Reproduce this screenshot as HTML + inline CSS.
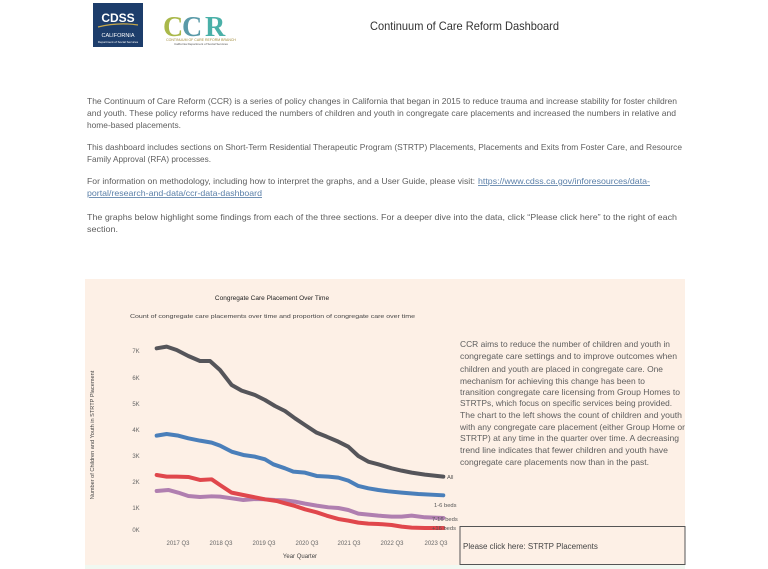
<!DOCTYPE html>
<html><head><meta charset="utf-8"><style>
html,body{margin:0;padding:0;background:#fff;}
svg{display:block;font-family:"Liberation Sans",sans-serif;}
</style></head><body>
<svg width="768" height="569" viewBox="0 0 768 569" xmlns="http://www.w3.org/2000/svg">
<rect width="768" height="569" fill="#fff"/>
<rect x="93" y="3" width="50" height="44" fill="#1d3d6b"/>
<text x="118" y="22" font-size="12" fill="#fff" text-anchor="middle" font-weight="bold">CDSS</text>
<path d="M98 27 Q118 22 138 25" stroke="#c9a94a" stroke-width="1.2" fill="none"/>
<text x="118" y="37" font-size="5.5" fill="#fff" text-anchor="middle">CALIFORNIA</text>
<text x="118" y="43" font-size="3" fill="#fff" text-anchor="middle">Department of Social Services</text>
<text x="163" y="36" font-size="28" fill="#a9b84a" font-weight="bold" font-family="Liberation Serif,serif">C</text>
<text x="182" y="36" font-size="28" fill="#5a9aa8" font-weight="bold" font-family="Liberation Serif,serif">C</text>
<text x="205" y="36" font-size="28" fill="#4ab0a8" font-weight="bold" font-family="Liberation Serif,serif">R</text>
<text x="201" y="41" font-size="3.5" fill="#a08a3a" text-anchor="middle">CONTINUUM OF CARE REFORM BRANCH</text>
<text x="201" y="45" font-size="3" fill="#555" text-anchor="middle">California Department of Social Services</text>
<text x="370" y="30" font-size="12" fill="#333" textLength="189" lengthAdjust="spacingAndGlyphs">Continuum of Care Reform Dashboard</text>
<g font-size="8.5" fill="#5e5e5e">
<text x="87" y="104" textLength="590" lengthAdjust="spacingAndGlyphs">The Continuum of Care Reform (CCR) is a series of policy changes in California that began in 2015 to reduce trauma and increase stability for foster children</text>
<text x="87" y="116" textLength="589" lengthAdjust="spacingAndGlyphs">and youth.  These policy reforms have reduced the numbers of children and youth in congregate care placements and increased the numbers in relative and</text>
<text x="87" y="128" textLength="94" lengthAdjust="spacingAndGlyphs">home-based placements.</text>
<text x="87" y="150" textLength="595" lengthAdjust="spacingAndGlyphs">This dashboard includes sections on Short-Term Residential Therapeutic Program (STRTP) Placements, Placements and Exits from Foster Care, and Resource</text>
<text x="87" y="162" textLength="124" lengthAdjust="spacingAndGlyphs">Family Approval (RFA) processes.</text>
<text x="87" y="184" textLength="388" lengthAdjust="spacingAndGlyphs">For information on methodology, including how to interpret the graphs, and a User Guide, please visit:</text>
<text x="478" y="184" textLength="172" lengthAdjust="spacingAndGlyphs" fill="#5a7fa8" text-decoration="underline">https://www.cdss.ca.gov/inforesources/data-</text>
<text x="87" y="196" textLength="175" lengthAdjust="spacingAndGlyphs" fill="#5a7fa8" text-decoration="underline">portal/research-and-data/ccr-data-dashboard</text>
<text x="87" y="220" textLength="590" lengthAdjust="spacingAndGlyphs">The graphs below highlight some findings from each of the three sections. For a deeper dive into the data, click “Please click here” to the right of each</text>
<text x="87" y="232" textLength="31" lengthAdjust="spacingAndGlyphs">section.</text>
</g>
<rect x="85" y="279" width="600" height="287" fill="#fdf0e6"/>
<rect x="85" y="565" width="600" height="4" fill="#f1f8f1"/>
<text x="272" y="300" font-size="6.5" fill="#222" text-anchor="middle">Congregate Care Placement Over Time</text>
<text x="130" y="318" font-size="5.8" fill="#444" textLength="285" lengthAdjust="spacingAndGlyphs">Count of congregate care placements over time and proportion of congregate care over time</text>
<text transform="translate(94,435) rotate(-90)" font-size="5.6" fill="#444" text-anchor="middle">Number of Children and Youth in STRTP Placement</text>
<g font-size="6" fill="#666" text-anchor="middle">
<text x="136" y="353">7K</text><text x="136" y="380">6K</text><text x="136" y="406">5K</text>
<text x="136" y="432">4K</text><text x="136" y="458">3K</text><text x="136" y="484">2K</text>
<text x="136" y="510">1K</text><text x="136" y="532">0K</text>
<text x="178" y="545">2017 Q3</text><text x="221" y="545">2018 Q3</text><text x="264" y="545">2019 Q3</text>
<text x="307" y="545">2020 Q3</text><text x="349" y="545">2021 Q3</text><text x="392" y="545">2022 Q3</text>
<text x="436" y="545">2023 Q3</text>
<text x="300" y="558" fill="#444">Year Quarter</text>
</g>
<g transform="translate(85,280) scale(0.3333)" fill="none" stroke-width="12" stroke-linejoin="round" stroke-linecap="round">
<polyline stroke="#b07fb0" points="215,633 250,630 280,638 310,648 345,651 380,649 405,650 440,655 475,660 510,657 540,658 570,660 600,661 630,665 660,671 695,677 730,682 760,684 790,690 820,701 850,704 880,707 920,710 950,710 980,707 1020,712 1075,714"/>
<polyline stroke="#e0474c" points="215,585 245,590 275,590 310,591 345,600 380,598 405,615 440,638 475,645 510,652 540,658 575,663 600,670 630,678 660,688 695,697 725,707 760,717 790,722 820,728 850,731 880,732 920,735 950,740 980,743 1020,744 1075,744"/>
<polyline stroke="#4a7fba" points="215,467 245,462 280,467 310,475 345,482 380,488 405,497 440,515 475,525 510,530 540,538 565,553 600,565 625,575 660,578 695,588 730,590 760,593 790,602 820,618 850,625 880,630 910,634 950,638 1000,642 1075,646"/>
<polyline stroke="#55555a" points="215,205 245,200 275,210 310,228 345,243 375,243 405,270 440,315 470,332 510,345 540,360 570,378 600,393 630,415 660,435 695,458 725,470 760,485 790,500 820,528 850,545 880,553 920,565 950,572 980,578 1020,584 1075,590"/>
</g>
<g font-size="5.8" fill="#555">
<text x="447" y="479">All</text>
<text x="434" y="507">1-6 beds</text>
<text x="432" y="521">7-16 beds</text>
<text x="432" y="530">+16 beds</text>
</g>
<g font-size="8.3" fill="#5e5e5e">
<text x="460" y="347" textLength="210" lengthAdjust="spacingAndGlyphs">CCR aims to reduce the number of children and youth in</text>
<text x="460" y="359" textLength="217" lengthAdjust="spacingAndGlyphs">congregate care settings and to improve outcomes when</text>
<text x="460" y="372" textLength="203" lengthAdjust="spacingAndGlyphs">children and youth are placed in congregate care. One</text>
<text x="460" y="384" textLength="185" lengthAdjust="spacingAndGlyphs">mechanism for achieving this change has been to</text>
<text x="460" y="395" textLength="220" lengthAdjust="spacingAndGlyphs">transition congregate care licensing from Group Homes to</text>
<text x="460" y="406" textLength="212" lengthAdjust="spacingAndGlyphs">STRTPs, which focus on specific services being provided.</text>
<text x="460" y="418" textLength="222" lengthAdjust="spacingAndGlyphs">The chart to the left shows the count of children and youth</text>
<text x="460" y="430" textLength="225" lengthAdjust="spacingAndGlyphs">with any congregate care placement (either Group Home or</text>
<text x="460" y="441" textLength="219" lengthAdjust="spacingAndGlyphs">STRTP) at any time in the quarter over time.  A decreasing</text>
<text x="460" y="453" textLength="208" lengthAdjust="spacingAndGlyphs">trend line indicates that fewer children and youth have</text>
<text x="460" y="465" textLength="189" lengthAdjust="spacingAndGlyphs">congregate care placements now than in the past.</text>
</g>
<rect x="460" y="526.5" width="225" height="38" fill="none" stroke="#555" stroke-width="1"/>
<text x="463" y="549" font-size="8" fill="#444">Please click here: STRTP Placements</text>
</svg>
</body></html>
